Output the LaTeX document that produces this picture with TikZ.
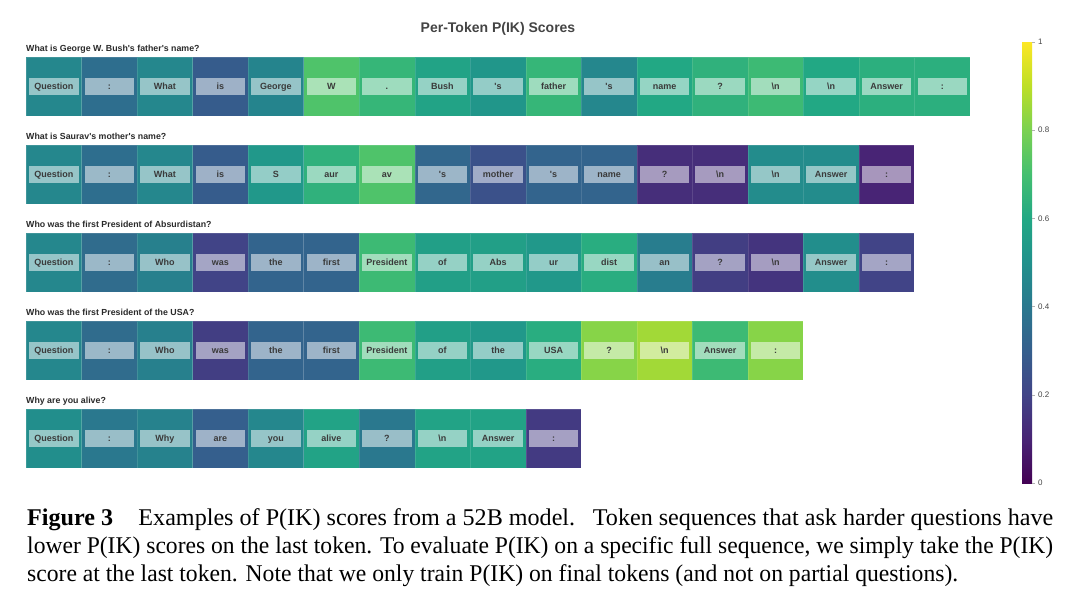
\documentclass[tikz,border=0pt]{standalone}
\usepackage{fontspec}
\setmainfont{Liberation Serif}
\newfontfamily\arialf{Liberation Sans}
\usepackage{graphicx}
\definecolor{vir0}{HTML}{440154}
\definecolor{vir1}{HTML}{482475}
\definecolor{vir2}{HTML}{414487}
\definecolor{vir3}{HTML}{355F8D}
\definecolor{vir4}{HTML}{2A788E}
\definecolor{vir5}{HTML}{21918C}
\definecolor{vir6}{HTML}{22A884}
\definecolor{vir7}{HTML}{44BF70}
\definecolor{vir8}{HTML}{7AD151}
\definecolor{vir9}{HTML}{BDDF26}
\definecolor{vir10}{HTML}{FDE725}
\definecolor{tokgray}{HTML}{3A3A3A}
\definecolor{labgray}{HTML}{2A2A2A}
\definecolor{titlegray}{HTML}{444444}
\pgfdeclareverticalshading{viridisbar}{100bp}{color(0bp)=(vir0); color(25bp)=(vir0); color(30bp)=(vir1); color(35bp)=(vir2); color(40bp)=(vir3); color(45bp)=(vir4); color(50bp)=(vir5); color(55bp)=(vir6); color(60bp)=(vir7); color(65bp)=(vir8); color(70bp)=(vir9); color(75bp)=(vir10); color(100bp)=(vir10)}
\newcommand\tokrow[3]{%
  \foreach \val/\tok [count=\i] in {#3} {
    \pgfmathtruncatemacro\lo{floor(\val*10+0.0001)}
    \pgfmathtruncatemacro\hi{min(\lo+1,10)}
    \pgfmathtruncatemacro\pct{round(100*(\lo+1-\val*10))}
    \colorlet{cellc}{vir\lo!\pct!vir\hi}
    \pgfmathsetmacro\cx{26+(\i-0.5)*55.53}
    \node[cellbox, fill=cellc] (r#1c\i) at (\cx, #2+29.5) {};
    \node[tokbox] (r#1t\i) at (r#1c\i) {\tok};
  }}
\newcommand\sq{\textquotesingle}
\newcommand\bsn{\textbackslash n}
\begin{document}
\begin{tikzpicture}[x=1pt,y=-1pt,
  cellbox/.style={draw=white, draw opacity=0.12, line width=0.4pt, minimum width=55.53pt, minimum height=59pt, inner sep=0pt, outer sep=0pt},
  tokbox/.style={fill=white, fill opacity=0.52, text opacity=1, minimum width=49.5pt, minimum height=17pt, inner sep=0pt, text height=6.6pt, text depth=0.6pt, font=\arialf\bfseries\fontsize{9}{10}\selectfont, text=tokgray},
  rowlab/.style={anchor=base west, inner sep=0pt, font=\arialf\bfseries\fontsize{8.8}{10}\selectfont, text=labgray},
  titlelab/.style={anchor=base, inner sep=0pt, font=\arialf\bfseries\fontsize{14}{16}\selectfont, text=titlegray},
  ticklab/.style={anchor=west, inner sep=0pt, font=\arialf\fontsize{8}{9}\selectfont, text=titlegray},
  capline/.style={anchor=base west, inner sep=0pt, font=\fontsize{24}{25}\selectfont, text=black}]
\useasboundingbox (0,0) rectangle (1080,605);
\fill[white] (0,0) rectangle (1080,605);

\node[titlelab] (title) at (498,32) {Per-Token P(IK) Scores};

\node[rowlab] (q1) at (26,51.5) {What is George W. Bush\sq s father\sq s name?};
\tokrow{1}{57}{0.46/Question, 0.36/:, 0.46/What, 0.29/is, 0.45/George, 0.72/W, 0.66/., 0.58/Bush, 0.52/{\sq s}, 0.66/father, 0.46/{\sq s}, 0.6/name, 0.64/?, 0.68/\bsn, 0.6/\bsn, 0.63/Answer, 0.63/:}

\node[rowlab] (q2) at (26,139.5) {What is Saurav\sq s mother\sq s name?};
\tokrow{2}{145}{0.46/Question, 0.36/:, 0.46/What, 0.29/is, 0.53/S, 0.64/aur, 0.72/av, 0.33/{\sq s}, 0.25/mother, 0.32/{\sq s}, 0.32/name, 0.13/?, 0.13/\bsn, 0.48/\bsn, 0.48/Answer, 0.1/:}

\node[rowlab] (q3) at (26,227.5) {Who was the first President of Absurdistan?};
\tokrow{3}{233}{0.46/Question, 0.35/:, 0.43/Who, 0.2/was, 0.32/the, 0.32/first, 0.68/President, 0.56/of, 0.56/Abs, 0.53/ur, 0.62/dist, 0.42/an, 0.18/?, 0.15/\bsn, 0.49/Answer, 0.2/:}

\node[rowlab] (q4) at (26,315.5) {Who was the first President of the USA?};
\tokrow{4}{321}{0.46/Question, 0.35/:, 0.43/Who, 0.18/was, 0.32/the, 0.32/first, 0.68/President, 0.56/of, 0.53/the, 0.62/USA, 0.82/?, 0.86/\bsn, 0.68/Answer, 0.82/:}

\node[rowlab] (q5) at (26,403.5) {Why are you alive?};
\tokrow{5}{409}{0.49/Question, 0.4/:, 0.44/Why, 0.3/are, 0.46/you, 0.58/alive, 0.4/?, 0.58/\bsn, 0.58/Answer, 0.17/:}

% colour bar
\shade[shading=viridisbar] (1022,42) rectangle (1032,483);
\foreach \val/\lab in {0/0, 0.2/0.2, 0.4/0.4, 0.6/0.6, 0.8/0.8, 1/1} {
  \draw[gray!60, line width=0.4pt] (1032,{483-441*\val}) -- (1035,{483-441*\val});
  \node[ticklab] (tick\lab) at (1038,{483-441*\val}) {\lab};
}

% caption
\node[capline] (cap1) at (27,525) {\resizebox{1026pt}{\height}{\textbf{Figure 3}\hspace{0.8em} Examples of P(IK) scores from a 52B model.\hspace{0.4em} Token sequences that ask harder questions have}};
\node[capline] (cap2) at (27,553) {\resizebox{1026pt}{\height}{lower P(IK) scores on the last token. To evaluate P(IK) on a specific full sequence, we simply take the P(IK)}};
\node[capline] (cap3) at (27,581) {\resizebox{931pt}{\height}{score at the last token. Note that we only train P(IK) on final tokens (and not on partial questions).}};
\end{tikzpicture}
\end{document}
